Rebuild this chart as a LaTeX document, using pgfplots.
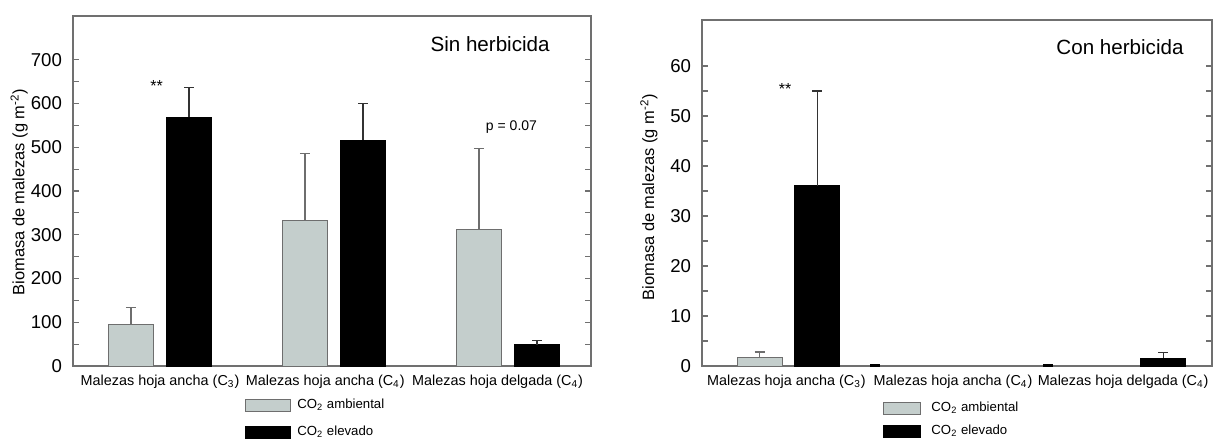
\documentclass[border=0pt]{standalone}
\usepackage{pgfplots}
\pgfplotsset{compat=1.18}
\usepackage{fontspec}
\setmainfont{Liberation Sans}
\definecolor{barg}{HTML}{C4CECC}
\definecolor{edgeg}{HTML}{6E6E6E}
\definecolor{axg}{HTML}{707070}
\pgfplotsset{
  common/.style={
    scale only axis,
    axis line style={axg, line width=0.6pt},
    ymin=0, xmin=-0.5,
    xtick={0,0.95,1.94},
    xticklabels={Malezas hoja ancha (C\textsubscript{3}),Malezas hoja ancha (C\textsubscript{4}),Malezas hoja delgada (C\textsubscript{4})},
    x tick style={draw=none},
    xtick pos=bottom,
    xticklabel style={font=\fontsize{7.2}{8}\selectfont, yshift=-1pt},
    ytick pos=both, yticklabel pos=left,
    tick align=inside,
    y tick style={axg, line width=0.6pt},
    major tick length=3pt, minor tick length=3pt,
    minor y tick num=1,
    yticklabel style={font=\fontsize{9.3}{11}\selectfont, /pgf/number format/assume math mode=true, xshift=-2pt},
    every axis y label/.style={rotate=90, anchor=center, font=\fontsize{8.2}{10}\selectfont},
    ylabel={Biomasa de malezas (g m\textsuperscript{-2})},
    legend cell align=left,
    clip=false,
  },
  amb/.style={ybar, bar width=0.26, bar shift=0, fill=barg, draw=edgeg, line width=0.5pt,
    error bars/y dir=plus, error bars/y explicit,
    error bars/error bar style={edgeg, line width=0.6pt},
    error bars/error mark options={edgeg, line width=0.6pt, mark size=2.5pt, rotate=90}},
  ele/.style={ybar, bar width=0.26, bar shift=0, fill=black, draw=black, line width=0.5pt,
    error bars/y dir=plus, error bars/y explicit,
    error bars/error bar style={black!80, line width=0.6pt},
    error bars/error mark options={black!80, line width=0.6pt, mark size=2.5pt, rotate=90}},
}
\begin{document}
\begin{tikzpicture}
\useasboundingbox (0,0) rectangle (606.5pt,219.5pt);
% ---------- Sin herbicida ----------
\begin{axis}[common,
  at={(36.5pt,36.5pt)}, anchor=south west,
  width=259pt, height=175pt,
  xmax=2.477, ymax=800,
  ytick={0,100,...,700},
  every axis y label/.append style={at={(axis description cs:-0.104,0.497)}},
  legend style={at={(axis description cs:0.332,-0.088)}, anchor=north west, draw=none, fill=none,
    font=\fontsize{6.6}{8}\selectfont, inner sep=0pt, row sep=5pt,
    nodes={inner sep=1pt}},
]
\addplot[amb, /pgfplots/legend image code/.code={\draw[fill=barg,draw=edgeg,line width=0.5pt] (0pt,-3pt) rectangle (22.5pt,3pt);}]
  coordinates {(-0.167,96) +- (0,37) (0.833,333) +- (0,153) (1.833,312) +- (0,186)};
\addlegendentry{\hspace{2pt}CO\textsubscript{2} ambiental}
\addplot[ele, /pgfplots/legend image code/.code={\draw[fill=black,draw=black] (0pt,-3pt) rectangle (22.5pt,3pt);}]
  coordinates {(0.167,568) +- (0,68) (1.167,516) +- (0,84) (2.167,48.6) +- (0,10)};
\addlegendentry{\hspace{2pt}CO\textsubscript{2} elevado}
\node[font=\fontsize{10.3}{12}\selectfont] at (axis cs:1.897,735) {Sin herbicida};
\node[font=\fontsize{8}{9}\selectfont] at (axis cs:-0.02,639) {**};
\node[font=\fontsize{7}{8}\selectfont] at (axis cs:2.02,545) {p = 0.07};
\end{axis}
% ---------- Con herbicida ----------
\begin{axis}[common,
  at={(351pt,36.5pt)}, anchor=south west,
  width=255pt, height=173pt,
  xmax=2.448, ymax=69.2,
  xtick={-0.012,0.951,1.934},
  ytick={0,10,...,60},
  every axis y label/.append style={at={(axis description cs:-0.104,0.488)}},
  legend style={at={(axis description cs:0.355,-0.098)}, anchor=north west, draw=none, fill=none,
    font=\fontsize{6.6}{8}\selectfont, inner sep=0pt, row sep=3pt,
    nodes={inner sep=1pt}},
]
\addplot[amb, /pgfplots/legend image code/.code={\draw[fill=barg,draw=edgeg,line width=0.5pt] (0pt,-3pt) rectangle (18.5pt,3pt);}]
  coordinates {(-0.167,1.8) +- (0,1.0)};
\addlegendentry{\hspace{4pt}CO\textsubscript{2} ambiental}
\addplot[ele, /pgfplots/legend image code/.code={\draw[fill=black,draw=black] (0pt,-3pt) rectangle (18.5pt,3pt);}]
  coordinates {(0.167,36.0) +- (0,19.0) (2.167,1.6) +- (0,1.1)};
\addlegendentry{\hspace{4pt}CO\textsubscript{2} elevado}
\addplot[ybar, bar width=0.052, bar shift=0, fill=black, draw=black, line width=0.3pt, forget plot]
  coordinates {(0.5,0.3) (1.5,0.3)};
\node[font=\fontsize{10.3}{12}\selectfont] at (axis cs:1.916,63.8) {Con herbicida};
\node[font=\fontsize{8}{9}\selectfont] at (axis cs:-0.02,55.4) {**};
\end{axis}
\end{tikzpicture}
\end{document}
